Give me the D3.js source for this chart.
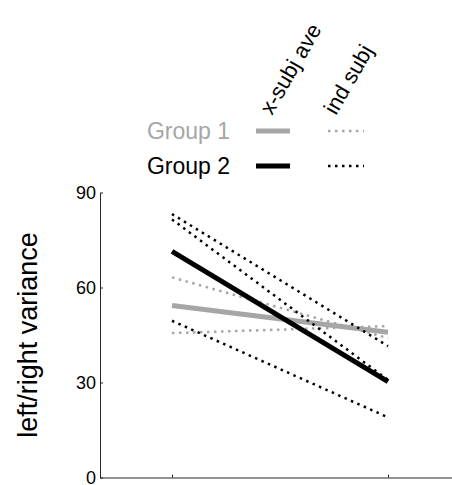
<!DOCTYPE html>
<html>
<head>
<meta charset="utf-8">
<script src="https://cdn.jsdelivr.net/npm/d3@7"></script>
<style>
  body { margin: 0; background: #fff; }
  svg text { font-family: "Liberation Sans", Arial, sans-serif; }
</style>
</head>
<body>
<svg id="chart" width="452" height="485"></svg>
<script>
// conditions on the x axis (two sessions, no labels)
const conditions = [1, 2];
// across-subject averages
const group1Ave = [54.3, 45.9];
const group2Ave = [71.4, 30.3];
// individual subjects
const group1Subj = [[63.2, 44.0], [45.6, 47.8]];
const group2Subj = [[83.2, 41.5], [81.5, 30.8], [49.5, 19.0]];
const yTicks = [0, 30, 60, 90];
const groupNames = ["Group 1", "Group 2"];
const legendHeads = ["x-subj ave", "ind subj"];

const gray = "#a6a6a6";
const groupColors = [gray, "#000"];

const svg = d3.select("#chart");

// scales
const x = d3.scaleLinear().domain([2 / 3, 7 / 3]).range([100, 460]);
const y = d3.scaleLinear().domain([0, 90]).range([477.5, 192.5]);

// y axis
const yAxis = d3.axisLeft(y).tickValues(yTicks).tickSizeInner(-3).tickSizeOuter(0).tickPadding(4);
const gy = svg.append("g").attr("transform", "translate(100,0)").call(yAxis);
gy.select(".domain").attr("stroke", "#262626");
gy.selectAll(".tick line").attr("stroke", "#262626");
gy.selectAll(".tick text").attr("font-size", 18).attr("fill", "#000").attr("font-family", "Liberation Sans, Arial, sans-serif");

// x axis (ticks only)
const xAxis = d3.axisBottom(x).tickValues(conditions).tickSizeInner(-3).tickSizeOuter(0).tickFormat("");
const gx = svg.append("g").attr("transform", "translate(0,477.5)").call(xAxis);
gx.select(".domain").attr("stroke", "#262626");
gx.selectAll(".tick line").attr("stroke", "#262626");

// y label
svg.append("text")
  .attr("transform", "translate(37,335) rotate(-90)")
  .attr("text-anchor", "middle")
  .attr("font-size", 27)
  .text("left/right variance");

const line = d3.line().x((d, i) => x(conditions[i])).y(d => y(d));

let drawSubj = (data, color) => {
  svg.append("g").selectAll("path")
    .data(data)
    .join("path")
    .attr("d", line)
    .attr("fill", "none")
    .attr("stroke", color)
    .attr("stroke-width", 2.5)
    .attr("stroke-dasharray", "2.5,4.5");
}
let drawAve = (data, color) => {
  svg.append("path")
    .attr("d", line(data))
    .attr("fill", "none")
    .attr("stroke", color)
    .attr("stroke-width", 5);
}

drawSubj(group1Subj, gray);
drawAve(group1Ave, gray);
drawSubj(group2Subj, "#000");
drawAve(group2Ave, "#000");

// legend
const legendY = [131, 166];
groupNames.forEach((name, i) => {
  svg.append("text")
    .attr("x", 230).attr("y", legendY[i] + 8)
    .attr("text-anchor", "end")
    .attr("font-size", 23)
    .attr("fill", groupColors[i])
    .text(name);
  svg.append("line")
    .attr("x1", 256).attr("x2", 290)
    .attr("y1", legendY[i]).attr("y2", legendY[i])
    .attr("stroke", groupColors[i]).attr("stroke-width", 5);
  svg.append("line")
    .attr("x1", 328).attr("x2", 364)
    .attr("y1", legendY[i]).attr("y2", legendY[i])
    .attr("stroke", groupColors[i]).attr("stroke-width", 2.5)
    .attr("stroke-dasharray", "2.5,4.5");
});

const headX = [272, 336];
legendHeads.forEach((h, i) => {
  svg.append("text")
    .attr("transform", `translate(${headX[i]},116) rotate(-60)`)
    .attr("font-size", 22)
    .text(h);
});
</script>
</body>
</html>
